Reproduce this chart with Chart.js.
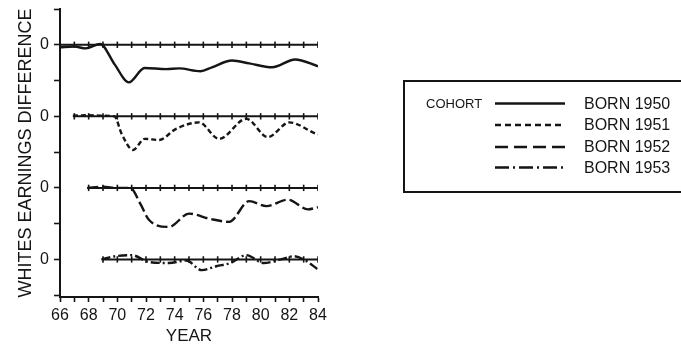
<!DOCTYPE html>
<html>
<head>
<meta charset="utf-8">
<script src="https://cdn.jsdelivr.net/npm/chart.js@4.4.1/dist/chart.umd.min.js"></script>
<style>
html, body { margin: 0; padding: 0; background: #fff; }
#wrap { width: 681px; height: 348px; }
</style>
</head>
<body>
<div id="wrap"><canvas id="earningsChart" width="681" height="348"></canvas></div>
<script>
// cohorts, each drawn on its own baseline
const cohorts = ['BORN 1950', 'BORN 1951', 'BORN 1952', 'BORN 1953'];
const offsets = [0, -2, -4, -6];
const zeroStart = [66, 66.9, 67.9, 68.9];

const years1950 = [66, 67, 67.8, 68.8, 69.8, 70.8, 71.9, 73.4, 74.3, 75.8, 76.6, 78.0, 79.2, 80.8, 82.4, 84];
const diff1950 = [-0.07, -0.05, -0.1, 0.02, -0.54, -1.05, -0.65, -0.68, -0.66, -0.74, -0.63, -0.44, -0.52, -0.63, -0.41, -0.60];

const years1951 = [66.9, 67.8, 68.8, 69.8, 70.3, 71.1, 71.9, 72.9, 74.1, 75.7, 77.1, 79.0, 80.5, 82.0, 83.9, 84];
const diff1951 = [0.02, 0.03, 0.02, 0, -0.49, -0.94, -0.63, -0.66, -0.35, -0.17, -0.63, -0.07, -0.58, -0.17, -0.49, -0.5];

const years1952 = [67.9, 69, 70, 70.9, 71.6, 72.2, 73.6, 75.0, 76.4, 77.8, 79.2, 80.4, 81.9, 83.3, 84];
const diff1952 = [0, 0.03, 0, 0, -0.44, -0.89, -1.09, -0.72, -0.86, -0.95, -0.37, -0.51, -0.33, -0.6, -0.54];

const years1953 = [68.9, 69.85, 71.0, 72.2, 73.6, 74.8, 75.9, 76.9, 77.9, 79.0, 80.2, 81.4, 82.3, 83.0, 84];
const diff1953 = [0, 0.09, 0.12, -0.07, -0.1, -0.03, -0.3, -0.19, -0.1, 0.12, -0.1, 0, 0.09, 0, -0.28];

const xLabels = ['66', '68', '70', '72', '74', '76', '78', '80', '82', '84'];
const yLabel = '0';

const dashes = [[], [5, 3], [11, 4], [9, 3, 2, 3]];
const legendDashes = [[], [6, 4], [13, 6], [14, 4, 2, 4]];
const ink = '#151515';
const face = '"Liberation Sans", Arial, sans-serif';

const series = [
    [years1950, diff1950],
    [years1951, diff1951],
    [years1952, diff1952],
    [years1953, diff1953]
];

const datasets = [];

series.forEach(([xs, ys], i) => {
    datasets.push({
        label: cohorts[i],
        data: xs.map((x, j) => ({ x: x, y: ys[j] + offsets[i] })),
        borderColor: ink,
        borderWidth: 2.4,
        borderDash: dashes[i],
        cubicInterpolationMode: 'monotone',
        pointRadius: 0,
        fill: false
    });
});

// baseline for each cohort, with a cross tick at every year
zeroStart.forEach((start, i) => {
    const pts = [{ x: start, y: offsets[i] }];
    for (let yr = Math.ceil(start); yr <= 84; yr++) {
        if (yr !== start) pts.push({ x: yr, y: offsets[i] });
    }
    datasets.push({
        label: 'zero' + i,
        data: pts,
        borderColor: ink,
        borderWidth: 2,
        pointStyle: 'line',
        rotation: 90,
        pointRadius: ctx => ctx.dataIndex === 0 && start % 1 !== 0 ? 0 : 3.2,
        pointBorderWidth: 1.6,
        pointBorderColor: ink,
        pointBackgroundColor: ink,
        fill: false
    });
});

const legendBox = {
    id: 'legendBox',
    afterDraw(chart) {
        const ctx = chart.ctx;
        ctx.save();
        ctx.strokeStyle = ink;
        ctx.lineWidth = 2;
        ctx.strokeRect(404, 81, 290, 111);

        ctx.fillStyle = ink;
        ctx.textBaseline = 'middle';
        ctx.font = '13px ' + face;
        ctx.fillText('COHORT', 426, 104);

        const rows = [103.5, 125, 147, 167.5];
        ctx.font = '16px ' + face;
        cohorts.forEach((name, i) => {
            ctx.setLineDash(legendDashes[i]);
            ctx.lineWidth = 2.4;
            ctx.beginPath();
            ctx.moveTo(495, rows[i]);
            ctx.lineTo(565, rows[i]);
            ctx.stroke();
            ctx.setLineDash([]);
            ctx.fillText(name, 584, rows[i] + 1);
        });
        ctx.restore();
    }
};

const context = document.getElementById('earningsChart').getContext('2d');
new Chart(context, {
    type: 'line',
    data: { datasets: datasets },
    plugins: [legendBox],
    options: {
        responsive: false,
        animation: false,
        devicePixelRatio: 1,
        layout: { padding: { top: 9, right: 363, bottom: 0, left: 0 } },
        plugins: {
            legend: { display: false },
            tooltip: { enabled: false }
        },
        scales: {
            x: {
                type: 'linear',
                min: 66,
                max: 84,
                afterFit: s => { s.height = 51; s.paddingLeft = 0; s.paddingRight = 0; },
                afterBuildTicks: s => {
                    s.ticks = [];
                    for (let v = 66; v <= 84; v++) s.ticks.push({ value: v });
                },
                ticks: {
                    autoSkip: false,
                    maxRotation: 0,
                    padding: 4,
                    color: ink,
                    font: { family: face, size: 16 },
                    callback: v => xLabels.includes(String(v)) ? String(v) : ''
                },
                grid: { drawOnChartArea: false, drawTicks: true, tickLength: 5, tickColor: ink, tickWidth: 1.6 },
                border: { display: true, color: ink, width: 2 },
                title: {
                    display: true,
                    text: 'YEAR',
                    color: ink,
                    padding: { top: 0, bottom: 1 },
                    font: { family: face, size: 17 }
                }
            },
            y: {
                min: -7.05,
                max: 1,
                afterFit: s => { s.width = 60; s.paddingTop = 0; s.paddingBottom = 0; },
                afterBuildTicks: s => {
                    s.ticks = [];
                    for (let v = 1; v >= -7; v--) s.ticks.push({ value: v });
                },
                ticks: {
                    autoSkip: false,
                    padding: 5,
                    color: ink,
                    font: { family: face, size: 16 },
                    callback: v => offsets.includes(v) ? yLabel : ''
                },
                grid: { drawOnChartArea: false, drawTicks: true, tickLength: 6, tickColor: ink, tickWidth: 1.6 },
                border: { display: true, color: ink, width: 2 },
                title: {
                    display: true,
                    text: 'WHITES EARNINGS DIFFERENCE',
                    color: ink,
                    padding: { top: 15, bottom: 0 },
                    font: { family: face, size: 18 }
                }
            }
        }
    }
});
</script>
</body>
</html>
